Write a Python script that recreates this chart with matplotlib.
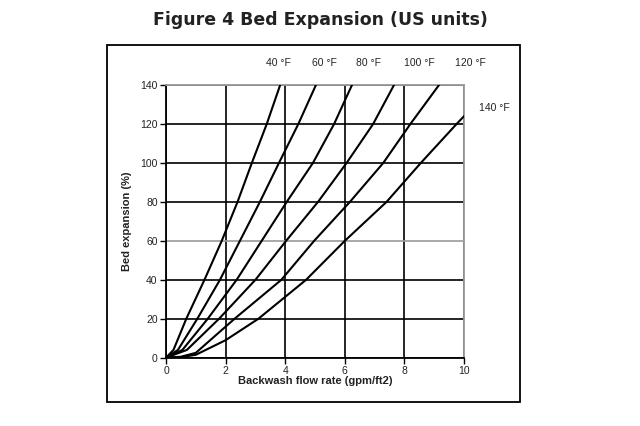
import matplotlib.pyplot as plt
from matplotlib.patches import Rectangle

# Bed expansion (%) read at each curve's crossing points
expansion = [0, 4, 20, 40, 60, 80, 100, 120, 140]

flow_40F = [0, 0.25, 0.68, 1.29, 1.87, 2.40, 2.88, 3.38, 3.83]
flow_60F = [0, 0.40, 1.05, 1.81, 2.48, 3.15, 3.79, 4.44, 5.03]
flow_80F = [0, 0.55, 1.40, 2.37, 3.21, 4.05, 4.93, 5.64, 6.24]
flow_100F = [0, 0.70, 1.78, 3.00, 4.03, 5.10, 6.06, 6.95, 7.65]

flow_120F = [0, 0.5, 1.0, 2.30, 3.87, 4.97, 6.17, 7.29, 8.20, 9.16]
exp_120F = [0, 0.5, 2.5, 20, 40, 60, 80, 100, 120, 140]

flow_140F = [0, 0.5, 1.0, 2.0, 3.1, 4.7, 6.0, 7.40, 8.55, 9.75, 10.0]
exp_140F = [0, 0.3, 1.5, 9, 20, 40, 60, 80, 100, 120, 124]

curve_labels = ['40 °F', '60 °F', '80 °F', '100 °F', '120 °F', '140 °F']

x_ticks = [0, 2, 4, 6, 8, 10]
y_ticks = [0, 20, 40, 60, 80, 100, 120, 140]

fig = plt.figure(figsize=(6.4, 4.26), dpi=100)
ax = fig.add_axes([0.2594, 0.1603, 0.4656, 0.640])

curves = [
    (flow_40F, expansion),
    (flow_60F, expansion),
    (flow_80F, expansion),
    (flow_100F, expansion),
    (flow_120F, exp_120F),
    (flow_140F, exp_140F),
]
for xs, ys in curves:
    ax.plot(xs, ys, color='black', lw=1.5, solid_joinstyle='round', zorder=3)

ax.set_xlim(0, 10)
ax.set_ylim(0, 140)
ax.set_xticks(x_ticks)
ax.set_yticks(y_ticks)
ax.grid(True, color='black', lw=1.2)
ax.set_axisbelow(True)
# the 60 % gridline is drawn grey in the original
ax.get_ygridlines()[3].set_color('#9a9a9a')

for side in ['top', 'right']:
    ax.spines[side].set_color('#9a9a9a')
    ax.spines[side].set_linewidth(1.3)
for side in ['left', 'bottom']:
    ax.spines[side].set_color('black')
    ax.spines[side].set_linewidth(1.3)

ax.tick_params(direction='out', length=4, width=1, labelsize=7.5, pad=2,
               colors='black', labelcolor='#222222')
for lab in ax.get_xticklabels() + ax.get_yticklabels():
    lab.set_fontfamily('Liberation Sans')

ax.set_xlabel('Backwash flow rate (gpm/ft2)', fontsize=8, fontweight='bold',
              family='Liberation Sans', labelpad=0, color='#222222')
ax.set_ylabel('Bed expansion (%)', fontsize=8, fontweight='bold',
              family='Liberation Sans', labelpad=6, color='#222222')

# curve labels above the plot
top_pos = [3.76, 5.30, 6.81, 8.49, 10.23]
for lab, xp in zip(curve_labels[:5], top_pos):
    ax.text(xp, 151.5, lab, fontsize=7.5, family='Liberation Sans',
            ha='center', va='center', clip_on=False, color='#222222')
ax.text(10.5, 128, curve_labels[5], fontsize=7.5, family='Liberation Sans',
        ha='left', va='center', clip_on=False, color='#222222')

fig.text(0.5, 0.953, 'Figure 4 Bed Expansion (US units)', fontsize=12.5,
         fontweight='bold', ha='center', va='center', color='#222222')

# frame around the figure panel
fig.patches.append(Rectangle((107 / 640, 1 - 402 / 426), 413 / 640, 357 / 426,
                             transform=fig.transFigure, fill=False,
                             edgecolor='black', lw=1.3))

fig.savefig('out.png', dpi=100)
